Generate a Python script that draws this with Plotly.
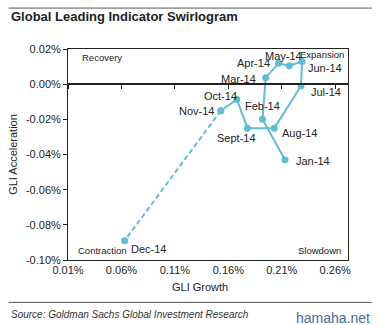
import plotly.graph_objects as go

# GLI swirlogram, monthly readings for 2014 (values in %)
months = ["Jan-14", "Feb-14", "Mar-14", "Apr-14", "May-14", "Jun-14",
          "Jul-14", "Aug-14", "Sept-14", "Oct-14", "Nov-14", "Dec-14"]
gli_growth = [0.213, 0.192, 0.195, 0.207, 0.217, 0.229,
              0.228, 0.203, 0.178, 0.168, 0.153, 0.063]
gli_accel = [-0.043, -0.020, 0.0037, 0.0119, 0.0105, 0.0129,
             -0.001, -0.025, -0.025, -0.0087, -0.0151, -0.089]

x_ticks = [0.01, 0.06, 0.11, 0.16, 0.21, 0.26]
y_ticks = [0.02, 0.00, -0.02, -0.04, -0.06, -0.08, -0.10]
quadrants = ["Recovery", "Expansion", "Contraction", "Slowdown"]

X_RANGE = [0.01, 0.272]
Y_RANGE = [-0.10, 0.02]
TEAL = "#5fbdd4"
INK = "#222222"
FONT = "Liberation Sans, Arial, sans-serif"

fig = go.Figure()

# Jan..Nov as a solid path, Nov -> Dec dashed
fig.add_trace(go.Scatter(
    x=gli_growth[:11], y=gli_accel[:11], mode="lines+markers",
    line=dict(color=TEAL, width=2), marker=dict(color=TEAL, size=7),
    hoverinfo="skip", showlegend=False))
fig.add_trace(go.Scatter(
    x=gli_growth[10:], y=gli_accel[10:], mode="lines+markers",
    line=dict(color=TEAL, width=2, dash="5px,3px"),
    marker=dict(color=TEAL, size=7),
    hoverinfo="skip", showlegend=False))
# carrier for the axis drawn along zero acceleration
fig.add_trace(go.Scatter(x=[], y=[], xaxis="x2", showlegend=False))

# month labels: (xanchor, xshift, yshift) placed around each point
label_pos = [("left", 9, -1), ("center", 0, 13), ("right", -8, -1),
             ("right", -7, 0), ("center", -6, 10), ("left", 4, -7),
             ("left", 8, -6), ("left", 6, -5), ("center", -11, -10),
             ("center", -16, 3), ("right", -5, 0), ("left", 4, -8)]
for name, gx, gy, (anc, dx, dy) in zip(months, gli_growth, gli_accel, label_pos):
    fig.add_annotation(x=gx, y=gy, text=name, showarrow=False,
                       xanchor=anc, yanchor="middle", xshift=dx, yshift=dy,
                       font=dict(family=FONT, size=11, color=INK))

# quadrant names in the plot corners
quad_pos = [(0.042, 0.962, "left"), (0.992, 0.972, "right"),
            (0.028, 0.043, "left"), (0.982, 0.043, "right")]
for name, (px, py, anc) in zip(quadrants, quad_pos):
    fig.add_annotation(xref="paper", yref="paper", x=px, y=py, text=name,
                       showarrow=False, xanchor=anc, yanchor="middle",
                       font=dict(family=FONT, size=9.5, color=INK))

# title, axis title, source and site mark
fig.add_annotation(xref="paper", yref="paper", x=-0.212, y=1.156,
                   text="<b>Global Leading Indicator Swirlogram</b>",
                   showarrow=False, xanchor="left", yanchor="middle",
                   font=dict(family=FONT, size=13, color=INK))
fig.add_annotation(xref="paper", yref="paper", x=0.47, y=-0.128,
                   text="GLI Growth", showarrow=False,
                   xanchor="center", yanchor="middle",
                   font=dict(family=FONT, size=11, color=INK))
fig.add_annotation(xref="paper", yref="paper", x=-0.212, y=-0.256,
                   text="<i>Source: Goldman Sachs Global Investment Research</i>",
                   showarrow=False, xanchor="left", yanchor="middle",
                   font=dict(family=FONT, size=10, color="#333333"))
fig.add_annotation(xref="paper", yref="paper", x=1.085, y=-0.275,
                   text="hamaha.net", showarrow=False,
                   xanchor="right", yanchor="middle",
                   font=dict(family=FONT, size=14, color="#3f6d9c"))

# horizontal rules above the title and above the source line
for ry in (1.194, -0.201):
    fig.add_shape(type="line", xref="paper", yref="paper",
                  x0=-0.212, x1=1.085, y0=ry, y1=ry,
                  line=dict(color="#555555", width=1))

zero_pos = (0 - Y_RANGE[0]) / (Y_RANGE[1] - Y_RANGE[0])

fig.update_layout(
    width=380, height=325,
    margin=dict(l=65, r=32, t=49, b=65),
    paper_bgcolor="white", plot_bgcolor="white",
    font=dict(family=FONT, size=11, color=INK),
    xaxis=dict(range=X_RANGE, tickvals=x_ticks,
               ticktext=[f"{v:.2f}%" for v in x_ticks],
               ticks="", showgrid=False, zeroline=False,
               showline=True, mirror=True, linecolor=INK, linewidth=1,
               tickfont=dict(size=11, color=INK)),
    xaxis2=dict(range=X_RANGE, tickvals=x_ticks, overlaying="x",
                anchor="free", position=zero_pos, side="bottom",
                ticks="outside", ticklen=4, tickcolor=INK,
                showticklabels=False, showgrid=False, zeroline=False,
                showline=True, linecolor=INK, linewidth=2),
    yaxis=dict(range=Y_RANGE, tickvals=y_ticks,
               ticktext=[f"{v:.2f}%" for v in y_ticks],
               ticks="outside", ticklen=4, tickcolor=INK,
               showgrid=False, zeroline=False,
               showline=True, mirror=True, linecolor=INK, linewidth=1,
               tickfont=dict(size=11, color=INK),
               title=dict(text="GLI Acceleration", standoff=6,
                          font=dict(size=11, color=INK))),
)

fig.write_html("out.html")
